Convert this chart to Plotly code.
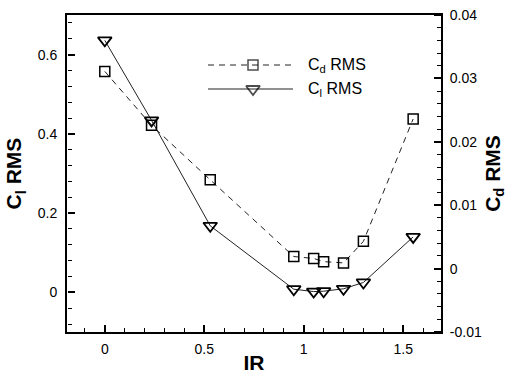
import plotly.graph_objects as go

# ---- data ----
IR = [0.0, 0.235, 0.53, 0.95, 1.05, 1.10, 1.20, 1.30, 1.55]
Cl_rms = [0.636, 0.434, 0.168, 0.008, 0.002, 0.003, 0.009, 0.025, 0.140]
Cd_rms = [0.0311, 0.0226, 0.0140, 0.0019, 0.0016, 0.0011, 0.0009, 0.0043, 0.0236]

x_ticks = [0, 0.5, 1, 1.5]
x_ticktext = ["0", "0.5", "1", "1.5"]
yl_ticks = [0, 0.2, 0.4, 0.6]
yl_ticktext = ["0", "0.2", "0.4", "0.6"]
yr_ticks = [-0.01, 0, 0.01, 0.02, 0.03, 0.04]
yr_ticktext = ["-0.01", "0", "0.01", "0.02", "0.03", "0.04"]

FONT = "Liberation Sans, Arial, sans-serif"
INK = "black"

X_RANGE = [-0.19, 1.69]
YL_RANGE = [-0.1, 0.7]
YR_RANGE = [-0.01, 0.04]

PL, PR, PT, PB = 67, 441, 15, 332
XPP = (X_RANGE[1] - X_RANGE[0]) / (PR - PL)
YLPP = (YL_RANGE[1] - YL_RANGE[0]) / (PB - PT)


def px_to_x(px):
    return X_RANGE[0] + (px - PL) * XPP


def py_to_y(py):
    return YL_RANGE[1] - (py - PT) * YLPP


fig = go.Figure()

fig.add_trace(go.Scatter(
    x=IR, y=Cd_rms, yaxis="y2", mode="lines+markers", name="Cd RMS",
    line=dict(color="#222", width=1, dash="6px,5px"),
    marker=dict(symbol="square-open", size=10, color=INK, line=dict(width=1.5)),
    showlegend=False, cliponaxis=False,
))
fig.add_trace(go.Scatter(
    x=IR, y=Cl_rms, yaxis="y", mode="lines+markers", name="Cl RMS",
    line=dict(color="#222", width=1),
    marker=dict(symbol="triangle-down-open", size=12, color=INK, line=dict(width=1.8)),
    showlegend=False, cliponaxis=False,
))

# empty traces so the tick-only helper axes are created
fig.add_trace(go.Scatter(x=[], y=[], xaxis="x2", yaxis="y", showlegend=False, hoverinfo="skip"))
fig.add_trace(go.Scatter(x=[], y=[], xaxis="x", yaxis="y3", showlegend=False, hoverinfo="skip"))
fig.add_trace(go.Scatter(x=[], y=[], xaxis="x", yaxis="y4", showlegend=False, hoverinfo="skip"))

# ---- legend samples ----
lx = [px_to_x(208), px_to_x(253), px_to_x(293)]
fig.add_trace(go.Scatter(
    x=lx, y=[py_to_y(65)] * 3, mode="lines+markers",
    line=dict(color="#222", width=1, dash="6px,5px"),
    marker=dict(symbol="square-open", size=[0, 10, 0], color=INK, line=dict(width=1.5)),
    showlegend=False, hoverinfo="skip",
))
fig.add_trace(go.Scatter(
    x=lx, y=[py_to_y(89)] * 3, mode="lines+markers",
    line=dict(color="#222", width=1),
    marker=dict(symbol="triangle-down-open", size=[0, 12, 0], color=INK, line=dict(width=1.8)),
    showlegend=False, hoverinfo="skip",
))

fig.add_annotation(x=px_to_x(306), y=py_to_y(65), text="C<sub>d</sub> RMS",
                   showarrow=False, xanchor="left", yanchor="middle",
                   font=dict(family=FONT, size=16, color=INK))
fig.add_annotation(x=px_to_x(306), y=py_to_y(89), text="C<sub>l</sub> RMS",
                   showarrow=False, xanchor="left", yanchor="middle",
                   font=dict(family=FONT, size=16, color=INK))

axis_common = dict(
    showline=True, linecolor=INK, linewidth=2, showgrid=False, zeroline=False,
    ticks="", automargin=False,
    tickfont=dict(family=FONT, size=14, color=INK),
)

# helper axes: sit on the frame, "outside" ticks point into the plot area
tick_axis = dict(
    showline=False, showgrid=False, zeroline=False, showticklabels=False,
    ticks="outside", ticklen=7, tickwidth=1.6, tickcolor=INK, automargin=False,
    anchor="free", fixedrange=True,
)
minor_ticks = dict(ticks="outside", ticklen=4, tickwidth=1, tickcolor=INK)

fig.update_layout(
    width=507, height=374,
    margin=dict(l=PL, r=507 - PR, t=PT, b=374 - PB),
    paper_bgcolor="white", plot_bgcolor="white",
    showlegend=False,
    xaxis=dict(
        **axis_common, range=X_RANGE, tickmode="array", tickvals=x_ticks, ticktext=x_ticktext,
        mirror=True, ticklabelstandoff=3,
        title=dict(text="<b>IR</b>", font=dict(family=FONT, size=21, color=INK), standoff=2),
    ),
    yaxis=dict(
        **axis_common, range=YL_RANGE, tickmode="array", tickvals=yl_ticks, ticktext=yl_ticktext,
        ticklabelstandoff=5,
        title=dict(text="<b>C<sub>l</sub> RMS</b>", font=dict(family=FONT, size=21, color=INK), standoff=10),
    ),
    yaxis2=dict(
        **axis_common, range=YR_RANGE, tickmode="array", tickvals=yr_ticks, ticktext=yr_ticktext,
        overlaying="y", side="right", anchor="x", ticklabelstandoff=4,
        title=dict(text="<b>C<sub>d</sub> RMS</b>", font=dict(family=FONT, size=21, color=INK), standoff=10),
    ),
    xaxis2=dict(
        **tick_axis, overlaying="x", side="top", position=0, range=X_RANGE,
        tickmode="linear", tick0=x_ticks[0], dtick=x_ticks[1] - x_ticks[0],
        minor=dict(**minor_ticks, dtick=0.1, tick0=0),
    ),
    yaxis3=dict(
        **tick_axis, overlaying="y", side="right", position=0, range=YL_RANGE,
        tickmode="linear", tick0=yl_ticks[0], dtick=yl_ticks[1] - yl_ticks[0],
        minor=dict(**minor_ticks, dtick=0.04, tick0=0),
    ),
    yaxis4=dict(
        **tick_axis, overlaying="y", side="left", position=1, range=YR_RANGE,
        tickmode="linear", tick0=yr_ticks[1], dtick=yr_ticks[2] - yr_ticks[1],
        minor=dict(**minor_ticks, dtick=0.002, tick0=0),
    ),
)

fig.write_html("out.html")
